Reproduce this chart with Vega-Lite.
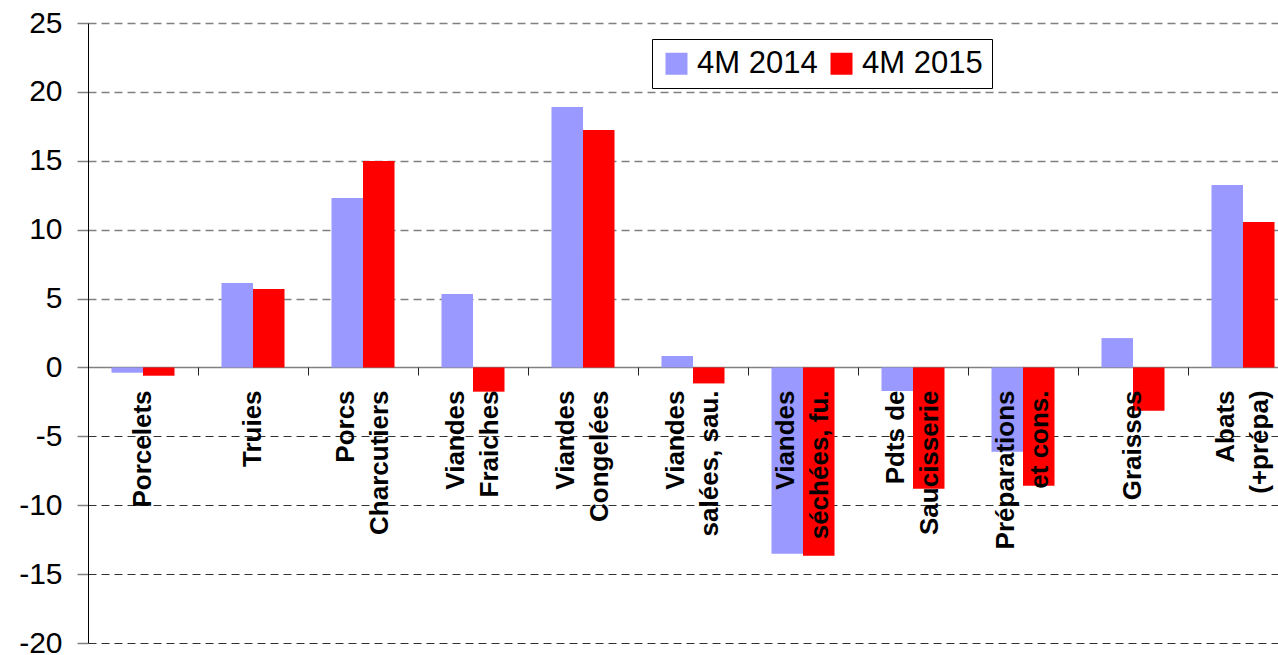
{
  "$schema": "https://vega.github.io/schema/vega-lite/v6.json",
  "width": 1190,
  "height": 620,
  "autosize": {"type": "none"},
  "padding": {"left": 88, "top": 23, "right": 0, "bottom": 12},
  "background": "white",
  "config": {"view": {"stroke": null}, "font": "Liberation Sans"},
  "data": {
    "values": [
      {"cat": "Porcelets", "series": "4M 2014", "value": -0.38},
      {"cat": "Porcelets", "series": "4M 2015", "value": -0.6},
      {"cat": "Truies", "series": "4M 2014", "value": 6.12},
      {"cat": "Truies", "series": "4M 2015", "value": 5.69},
      {"cat": "Porcs\nCharcutiers", "series": "4M 2014", "value": 12.29},
      {"cat": "Porcs\nCharcutiers", "series": "4M 2015", "value": 14.98},
      {"cat": "Viandes\nFraiches", "series": "4M 2014", "value": 5.33},
      {"cat": "Viandes\nFraiches", "series": "4M 2015", "value": -1.76},
      {"cat": "Viandes\nCongelées", "series": "4M 2014", "value": 18.9},
      {"cat": "Viandes\nCongelées", "series": "4M 2015", "value": 17.23},
      {"cat": "Viandes\nsalées, sau.", "series": "4M 2014", "value": 0.83},
      {"cat": "Viandes\nsalées, sau.", "series": "4M 2015", "value": -1.16},
      {"cat": "Viandes\nséchées, fu.", "series": "4M 2014", "value": -13.52},
      {"cat": "Viandes\nséchées, fu.", "series": "4M 2015", "value": -13.66},
      {"cat": "Pdts de\nSaucisserie", "series": "4M 2014", "value": -1.71},
      {"cat": "Pdts de\nSaucisserie", "series": "4M 2015", "value": -8.8},
      {"cat": "Préparations\net cons.", "series": "4M 2014", "value": -6.12},
      {"cat": "Préparations\net cons.", "series": "4M 2015", "value": -8.58},
      {"cat": "Graisses", "series": "4M 2014", "value": 2.13},
      {"cat": "Graisses", "series": "4M 2015", "value": -3.14},
      {"cat": "Abats\n(+prépa)", "series": "4M 2014", "value": 13.24},
      {"cat": "Abats\n(+prépa)", "series": "4M 2015", "value": 10.55}
    ]
  },
  "encoding": {
    "x": {
      "field": "cat",
      "type": "nominal",
      "sort": null,
      "scale": {"range": [0, 1210], "paddingInner": 0, "paddingOuter": 0},
      "axis": {
        "orient": "bottom",
        "offset": -276,
        "bandPosition": 0,
        "labels": false,
        "domain": false,
        "ticks": true,
        "tickSize": 8,
        "tickColor": "#222222",
        "tickWidth": 1,
        "grid": false,
        "title": null
      }
    }
  },
  "layer": [
    {
      "mark": {"type": "bar"},
      "encoding": {
        "xOffset": {
          "field": "series",
          "type": "nominal",
          "scale": {"paddingInner": 0, "paddingOuter": 0.746}
        },
        "y": {
          "field": "value",
          "type": "quantitative",
          "scale": {"domain": [-20, 25], "nice": false, "zero": false},
          "axis": {
            "values": [-20, -15, -10, -5, 0, 5, 10, 15, 20, 25],
            "labelExpr": "datum.value < 0 ? '-' + abs(datum.value) : '' + datum.value",
            "title": null,
            "labelFontSize": 30,
            "labelColor": "black",
            "labelFont": "Liberation Sans",
            "labelPadding": 15,
            "tickSize": 11,
            "tickColor": "#808080",
            "tickWidth": 1.5,
            "domainColor": "black",
            "domainWidth": 1,
            "grid": true,
            "gridColor": {"condition": {"test": "datum.value < 0", "value": "#333333"}, "value": "#808080"},
            "gridWidth": {"condition": {"test": "datum.value < 0", "value": 1}, "value": 1.5},
            "gridDash": {"condition": {"test": "datum.value === 0", "value": []}, "value": [8, 5]},
            "gridOpacity": 1
          }
        },
        "color": {
          "field": "series",
          "type": "nominal",
          "scale": {"domain": ["4M 2014", "4M 2015"], "range": ["#9999FF", "#FF0000"]},
          "legend": {
            "title": null,
            "orient": "none",
            "legendX": 564,
            "legendY": 16,
            "direction": "horizontal",
            "fillColor": "white",
            "strokeColor": "black",
            "padding": 9,
            "symbolType": "square",
            "symbolSize": 484,
            "symbolStrokeWidth": 0,
            "symbolOffset": 0,
            "labelFontSize": 31,
            "labelFont": "Liberation Sans",
            "labelColor": "black",
            "labelOffset": 5,
            "labelLimit": 300,
            "columnPadding": 8
          }
        }
      }
    },
    {
      "transform": [
        {"filter": "datum.series === '4M 2014'"},
        {"filter": "indexof(datum.cat, '\\n') < 0"}
      ],
      "mark": {
        "type": "text",
        "angle": 270,
        "align": "right",
        "baseline": "middle",
        "dx": -23,
        "fontSize": 26,
        "fontWeight": "bold",
        "font": "Liberation Sans",
        "color": "black"
      },
      "encoding": {
        "y": {"datum": 0},
        "text": {"field": "cat"}
      }
    },
    {
      "transform": [
        {"filter": "datum.series === '4M 2014'"},
        {"filter": "indexof(datum.cat, '\\n') >= 0"}
      ],
      "mark": {
        "type": "text",
        "angle": 270,
        "align": "right",
        "baseline": "middle",
        "dx": -23,
        "dy": -17,
        "fontSize": 26,
        "fontWeight": "bold",
        "font": "Liberation Sans",
        "lineBreak": "\n",
        "lineHeight": 34,
        "color": "black"
      },
      "encoding": {
        "y": {"datum": 0},
        "text": {"field": "cat"}
      }
    }
  ]
}
